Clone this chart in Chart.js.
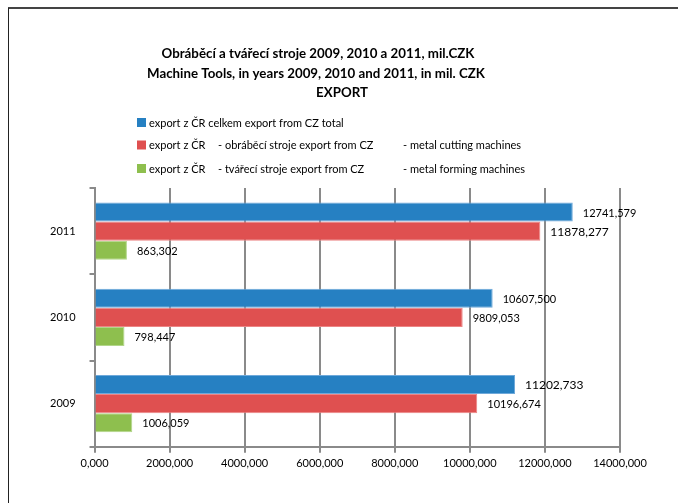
<!DOCTYPE html>
<html><head><meta charset="utf-8">
<script src="https://cdn.jsdelivr.net/npm/chart.js@4.4.1/dist/chart.umd.min.js"></script>
<style>html,body{margin:0;padding:0;background:#fff;overflow:hidden}#wrap{position:relative;width:678px;height:503px}</style>
</head><body><div id="wrap"><canvas id="c" width="678" height="503"></canvas></div>
<script>
// ---- data ----
const categories = ['2011', '2010', '2009'];
const exportTotal = [12741.579, 10607.500, 11202.733];
const exportCutting = [11878.277, 9809.053, 10196.674];
const exportForming = [863.302, 798.447, 1006.059];
const xTickValues = [0, 2000, 4000, 6000, 8000, 10000, 12000, 14000];
const titleLines = [
  'Obráběcí a tvářecí stroje 2009, 2010 a 2011, mil.CZK',
  'Machine Tools, in years 2009, 2010 and 2011, in mil. CZK',
  'EXPORT'
];
const seriesLabels = [
  'export z ČR celkem export from CZ total',
  'export z ČR\t- obráběcí stroje export from CZ\t- metal cutting machines',
  'export z ČR\t- tvářecí stroje export from CZ\t- metal forming machines'
];

// ---- styles ----
const FONT = 'Lato, "Liberation Sans", sans-serif';
const fmt = v => v.toFixed(3).replace('.', ',');
const largeLabel = { '1-0': 12, '0-2': 12 };
const gridGray = '#8a8a8a';

const headerPlugin = {
  id: 'header',
  afterDraw(chart) {
    const ctx = chart.ctx;
    ctx.save();
    // frame
    ctx.strokeStyle = '#444';
    ctx.lineWidth = 2;
    ctx.beginPath(); ctx.moveTo(8, 8); ctx.lineTo(678, 8); ctx.stroke();
    ctx.lineWidth = 1;
    ctx.strokeStyle = '#222';
    ctx.beginPath(); ctx.moveTo(8.5, 8); ctx.lineTo(8.5, 503); ctx.stroke();
    // title
    ctx.fillStyle = '#000';
    ctx.font = 'bold 13.3px ' + FONT;
    ctx.textAlign = 'center';
    ctx.textBaseline = 'middle';
    const tc = [[318, 54], [316, 73.5], [342, 92.5]];
    titleLines.forEach((t, i) => ctx.fillText(t, tc[i][0], tc[i][1]));
    // legend
    ctx.font = '11px ' + FONT;
    ctx.textAlign = 'left';
    const rows = [122.5, 145, 168.5];
    const cols = [149, 218, 403];
    chart.data.datasets.forEach((ds, i) => {
      ctx.fillStyle = ds.backgroundColor;
      ctx.fillRect(137, rows[i] - 4.5, 9, 9);
      ctx.fillStyle = '#000';
      ds.label.split('\t').forEach((seg, j) => ctx.fillText(seg, cols[j], rows[i] + 0.5));
    });
    ctx.restore();
  }
};

const valueLabels = {
  id: 'valueLabels',
  afterDatasetsDraw(chart) {
    const ctx = chart.ctx;
    ctx.save();
    ctx.fillStyle = '#000';
    ctx.textBaseline = 'middle';
    ctx.textAlign = 'left';
    chart.data.datasets.forEach((ds, di) => {
      const meta = chart.getDatasetMeta(di);
      meta.data.forEach((bar, i) => {
        const size = largeLabel[di + '-' + i] || 11;
        ctx.font = size + 'px ' + FONT;
        ctx.fillText(fmt(ds.data[i]), bar.x + 10, bar.y + 1);
      });
    });
    ctx.restore();
  }
};

new Chart(document.getElementById('c'), {
  type: 'bar',
  data: {
    labels: categories,
    datasets: [
      { label: seriesLabels[0], data: exportTotal, backgroundColor: '#2680C2', borderColor: '#6FA9DA', borderWidth: 1 },
      { label: seriesLabels[1], data: exportCutting, backgroundColor: '#DF5050', borderColor: '#EC8585', borderWidth: 1 },
      { label: seriesLabels[2], data: exportForming, backgroundColor: '#8EBF4E', borderColor: '#B2D68A', borderWidth: 1 }
    ]
  },
  options: {
    indexAxis: 'y',
    responsive: false,
    animation: false,
    devicePixelRatio: 1,
    layout: { padding: { left: 36, right: 58, top: 188, bottom: 29 } },
    datasets: { bar: { categoryPercentage: 0.664, barPercentage: 1.0 } },
    plugins: { legend: { display: false }, title: { display: false }, tooltip: { enabled: false } },
    scales: {
      x: {
        min: 0, max: 14000,
        afterBuildTicks: s => { s.ticks = xTickValues.map(v => ({ value: v })); },
        grid: { color: gridGray, lineWidth: 2, tickLength: 6 },
        border: { color: gridGray, width: 2 },
        ticks: { padding: 4, color: '#000', font: { family: FONT, size: 11 }, callback: v => fmt(v), maxRotation: 0 }
      },
      y: {
        grid: { offset: true, drawOnChartArea: false, tickLength: 5, color: gridGray, lineWidth: 2 },
        border: { color: gridGray, width: 2 },
        ticks: { padding: 14, color: '#000', font: { family: FONT, size: 11 } }
      }
    }
  },
  plugins: [headerPlugin, valueLabels]
});
</script>
</body></html>
